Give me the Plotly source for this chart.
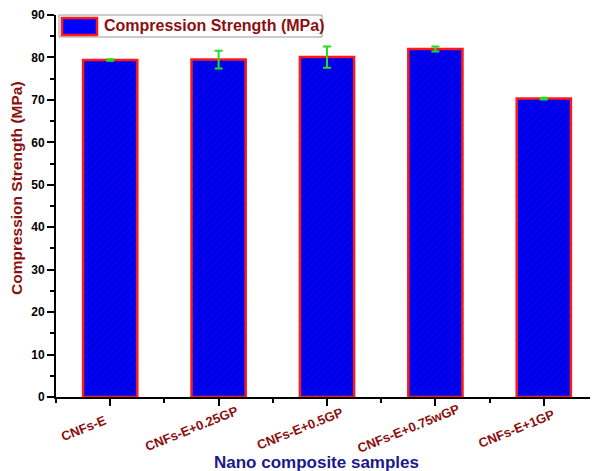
import plotly.graph_objects as go

categories = ["CNFs-E", "CNFs-E+0.25GP", "CNFs-E+0.5GP", "CNFs-E+0.75wGP", "CNFs-E+1GP"]
strength = [79.4, 79.5, 80.1, 82.0, 70.3]
errors = [0.2, 2.1, 2.5, 0.6, 0.2]
series_name = "Compression Strength (MPa)"
x_title = "Nano composite samples"
y_title = "Compression Strength (MPa)"

# page body has an 8px margin, so the figure is offset by 8px
OFF = 8
W, H = 598 - OFF, 471 - OFF
L, R, T, B = 56 - OFF, 0, 15 - OFF, 74
pw, ph = W - L - R, H - T - B

def px_x(x):
    return (x - OFF - L) / pw

def px_y(y):
    return (H - B - (y - OFF)) / ph

FONT = "Liberation Sans, Arial, sans-serif"
DARKRED = "#8b1010"
DARKBLUE = "#1a1a8c"

xs = list(range(len(categories)))
minor_vals = [i - 0.5 for i in range(len(categories) + 1)]

fig = go.Figure()
fig.add_trace(go.Bar(
    x=xs, y=strength, width=0.5, name=series_name, showlegend=False,
    marker=dict(color="#0000ff", line=dict(color="#ff1a1a", width=2.5),
                pattern=dict(shape="/", fgcolor="#000088", size=5, solidity=0.3, fillmode="overlay")),
    error_y=dict(type="data", array=errors, visible=True, color="#22dd22", thickness=2, width=4),
))

# custom legend
fig.add_shape(type="rect", xref="paper", yref="paper",
              x0=px_x(59), x1=px_x(322), y0=px_y(37), y1=px_y(15),
              line=dict(color="#999999", width=1), fillcolor="white")
fig.add_shape(type="rect", xref="paper", yref="paper",
              x0=px_x(62), x1=px_x(97), y0=px_y(35), y1=px_y(18),
              line=dict(color="#ff1a1a", width=2.5), fillcolor="#0000ff")
fig.add_annotation(text=series_name, xref="paper", yref="paper",
                   x=px_x(102), y=px_y(26), xanchor="left", yanchor="middle", showarrow=False,
                   font=dict(family=FONT, size=16, color=DARKRED, weight="bold"))

# rotated category labels (centred, as in the reference)
for xv, lab in zip(xs, categories):
    fig.add_annotation(text=lab, x=xv, xref="x", yref="paper", y=px_y(428),
                       xshift=-27, textangle=-22, xanchor="center", yanchor="middle",
                       showarrow=False,
                       font=dict(family=FONT, size=13, color=DARKRED, weight="bold"))

# axis titles
fig.add_annotation(text=x_title, xref="paper", yref="paper", x=px_x(316), y=px_y(462),
                   xanchor="center", yanchor="middle", showarrow=False,
                   font=dict(family=FONT, size=17, color=DARKBLUE, weight="bold"))
fig.add_annotation(text=y_title, xref="paper", yref="paper", x=px_x(16), y=px_y(188),
                   xanchor="center", yanchor="middle", textangle=-90, showarrow=False,
                   font=dict(family=FONT, size=15.5, color=DARKRED, weight="bold"))

fig.update_layout(
    width=W, height=H, margin=dict(l=L, r=R, t=T, b=B, autoexpand=False),
    plot_bgcolor="white", paper_bgcolor="white",
    font=dict(family=FONT),
)
fig.update_xaxes(
    range=[-0.5, 4.5], tickmode="array", tickvals=xs, ticktext=categories,
    showticklabels=False,
    ticks="outside", ticklen=7, tickwidth=2, tickcolor="black",
    minor=dict(tickmode="array", tickvals=minor_vals, ticks="outside", ticklen=4, tickwidth=2, tickcolor="black"),
    showline=True, linecolor="black", linewidth=2, showgrid=False, zeroline=False,
    automargin=False,
)
fig.update_yaxes(
    range=[0, 90], dtick=10, tick0=0,
    tickfont=dict(family=FONT, size=12, color="black", weight="bold"),
    ticks="outside", ticklen=7, tickwidth=2, tickcolor="black",
    minor=dict(dtick=5, ticks="outside", ticklen=4, tickwidth=2, tickcolor="black"),
    showline=True, linecolor="black", linewidth=2, showgrid=False, zeroline=False,
    automargin=False,
)

fig.write_html("out.html")
